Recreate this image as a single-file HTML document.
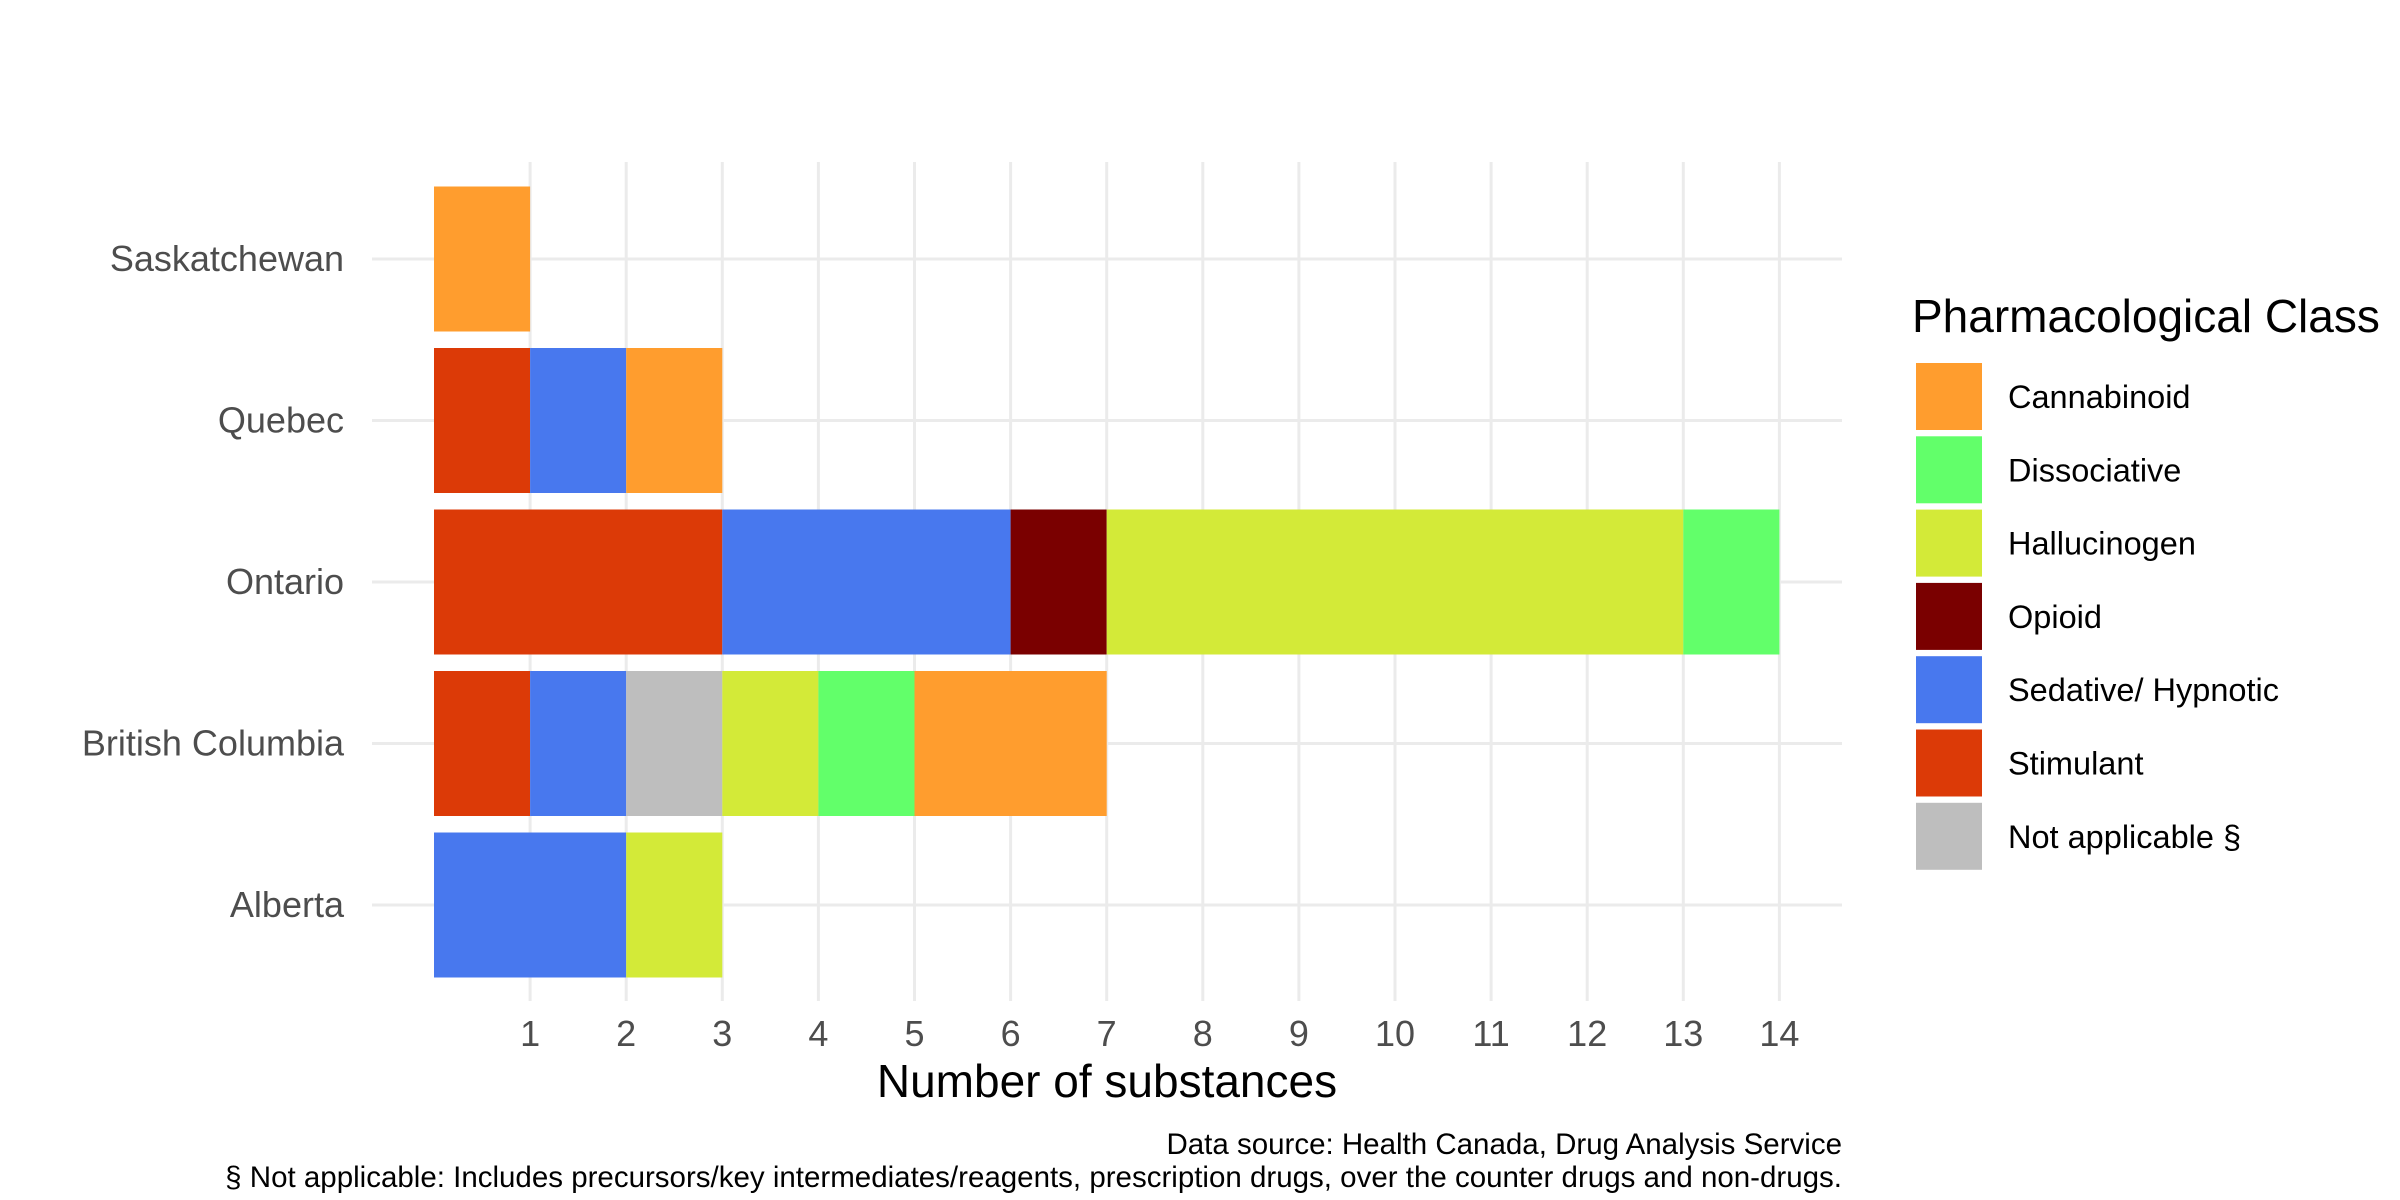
<!DOCTYPE html>
<html><head><meta charset="utf-8"><style>
html,body{margin:0;padding:0;background:#fff;}
svg{display:block;font-family:"Liberation Sans",Arial,sans-serif;}
</style></head><body>
<svg id="chart" width="2400" height="1200" viewBox="0 0 2400 1200"></svg>
<script>
const provinces = ["Saskatchewan","Quebec","Ontario","British Columbia","Alberta"];
const seriesNames = ["Stimulant","Sedative/ Hypnotic","Not applicable §","Opioid","Hallucinogen","Dissociative","Cannabinoid"];
const stimulant   = [0,1,3,1,0];
const sedative    = [0,1,3,1,2];
const notApplic   = [0,0,0,1,0];
const opioid      = [0,0,1,0,0];
const hallucinogen= [0,0,6,1,1];
const dissociative= [0,0,1,1,0];
const cannabinoid = [1,1,0,2,0];
const xTicks = [1,2,3,4,5,6,7,8,9,10,11,12,13,14];
const legendLabels = ["Cannabinoid","Dissociative","Hallucinogen","Opioid","Sedative/ Hypnotic","Stimulant","Not applicable §"];

const colors = {"Stimulant":"#DC3A07","Sedative/ Hypnotic":"#4878EE","Not applicable §":"#BEBEBE","Opioid":"#7A0000","Hallucinogen":"#D3EA38","Dissociative":"#62FF6A","Cannabinoid":"#FF9D2E"};
const seriesVals = [stimulant,sedative,notApplic,opioid,hallucinogen,dissociative,cannabinoid];

const svg = document.getElementById('chart');
const NS = "http://www.w3.org/2000/svg";
function mk(tag, attrs, parent){const e=document.createElementNS(NS,tag);for(const k in attrs)e.setAttribute(k,attrs[k]);(parent||svg).appendChild(e);return e;}

const x0 = 434, unit = 96.1, panelL = 372, panelR = 1842, panelT = 162, panelB = 1001;
const bandTop = 259, band = 161.5, barH = 145;
const X = v => x0 + v*unit;
const Y = i => bandTop + i*band;

xTicks.forEach(t=>{
  const l = mk('line',{x1:X(t),x2:X(t),y1:panelT,y2:panelB,stroke:'#EBEBEB','stroke-width':3});
  
  
});
provinces.forEach((p,i)=>{
  const l = mk('line',{x1:panelL,x2:panelR,y1:Y(i),y2:Y(i),stroke:'#EBEBEB','stroke-width':3});
  
  
});

provinces.forEach((p,i)=>{
  let acc = 0;
  seriesNames.forEach((s,k)=>{
    const v = seriesVals[k][i];
    if(v>0){
      const r = mk('rect',{x:X(acc),y:Y(i)-barH/2,width:X(acc+v)-X(acc),height:barH,fill:colors[s]});
      
      
      acc += v;
    }
  });
  const t = mk('text',{x:344,y:Y(i)+12,'text-anchor':'end','font-size':36,fill:'#4D4D4D'});
  t.textContent = p;
  
  
});

xTicks.forEach(tk=>{
  const t = mk('text',{x:X(tk),y:1046,'text-anchor':'middle','font-size':36,fill:'#4D4D4D'});
  t.textContent = tk;
  
  
});

const xt = mk('text',{x:(panelL+panelR)/2,y:1097,'text-anchor':'middle','font-size':46,fill:'#000'});
xt.textContent = 'Number of substances';



const c1 = mk('text',{x:1842,y:1154,'text-anchor':'end','font-size':29.5,fill:'#000'});
c1.textContent = 'Data source: Health Canada, Drug Analysis Service';


const c2 = mk('text',{x:1842,y:1187,'text-anchor':'end','font-size':29.5,fill:'#000'});
c2.textContent = '§ Not applicable: Includes precursors/key intermediates/reagents, prescription drugs, over the counter drugs and non-drugs.';



const lt = mk('text',{x:1912,y:332,'font-size':46,fill:'#000'});
lt.textContent = 'Pharmacological Class';


legendLabels.forEach((s,j)=>{
  const y = 363 + j*73.3;
  const g = mk('g',{});
  
  
  const r = mk('rect',{x:1916,y:y,width:66,height:67,fill:colors[s]},g);
  
  
  const t = mk('text',{x:2008,y:y+45,'font-size':32.5,fill:'#000'},g);
  t.textContent = s;
  
  
});
</script>
</body></html>
